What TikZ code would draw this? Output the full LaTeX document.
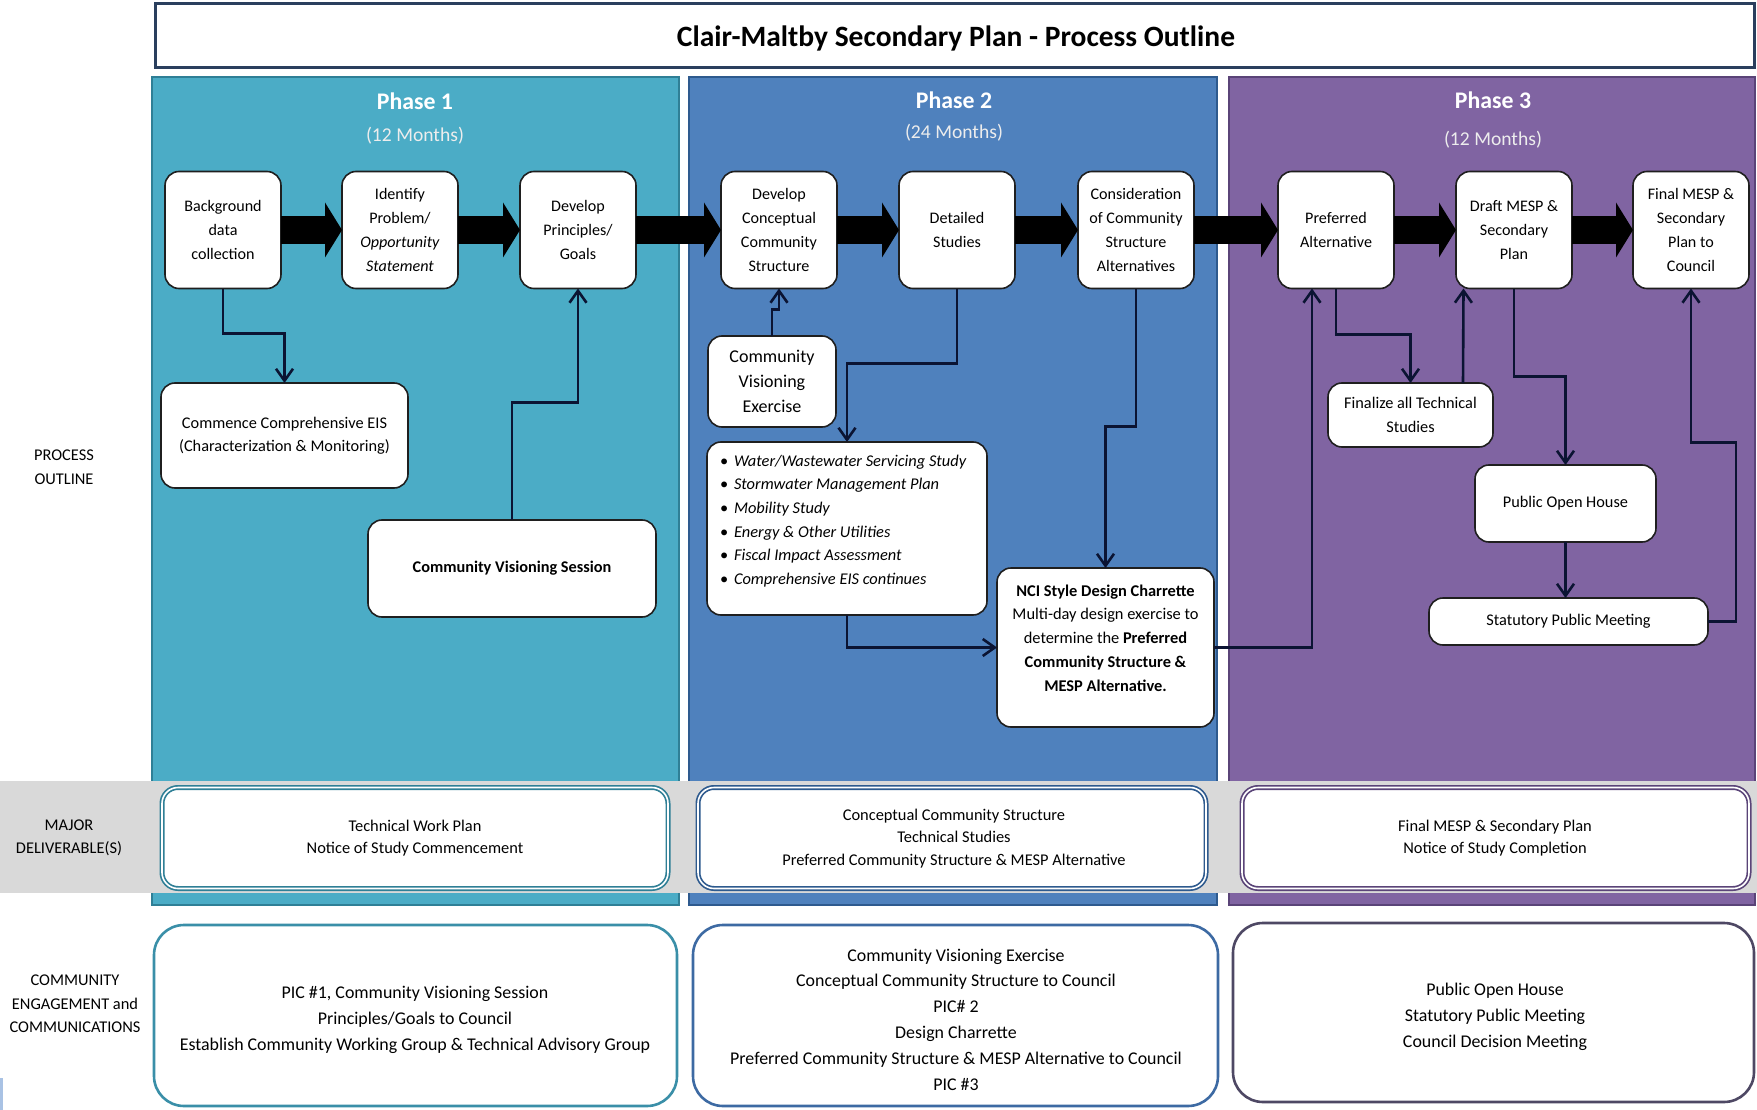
\documentclass[tikz,border=0pt]{standalone}
\usepackage{fontspec}
\setmainfont{Carlito}
\usetikzlibrary{arrows.meta,calc}
\definecolor{pone}{HTML}{4BACC6}
\definecolor{ponebd}{HTML}{2F7F96}
\definecolor{ptwo}{HTML}{4F81BD}
\definecolor{ptwobd}{HTML}{2E5A8E}
\definecolor{pthree}{HTML}{8064A2}
\definecolor{pthreebd}{HTML}{5A4478}
\definecolor{band}{HTML}{D9D9D9}
\definecolor{conncol}{HTML}{0B1433}
\definecolor{titlebd}{HTML}{2A3F5E}
\definecolor{engone}{HTML}{3A8FA8}
\definecolor{engtwo}{HTML}{3D6AA3}
\definecolor{engthree}{HTML}{4E4864}
\definecolor{artblue}{HTML}{A9C2E4}
\begin{document}
\begin{tikzpicture}[x=1pt,y=-1pt,
  every node/.style={inner sep=0pt,outer sep=0pt},
  pbox/.style={draw=black!88,line width=1.6pt,fill=white,rounded corners=14pt,align=center,
    minimum width=116pt,minimum height=117pt,font=\fontsize{16.1}{23.8}\selectfont},
  sbox/.style={draw=black!88,line width=1.6pt,fill=white,rounded corners=14pt,align=center,
    font=\fontsize{16.3}{23.5}\selectfont},
  bigarrow/.style={line width=28pt,-{Triangle[length=17pt,width=55pt,line width=0pt]},black},
  conn/.style={draw=conncol,line width=2.6pt,-{Straight Barb[length=12pt,width=17pt]}},
  phasetitle/.style={font=\bfseries\fontsize{23.8}{28}\selectfont,text=white},
  phasemonths/.style={font=\fontsize{19.6}{24}\selectfont,text=white!86!gray},
  sidelabel/.style={align=center,font=\fontsize{16.4}{23.5}\selectfont},
  delbox/.style={draw=#1,line width=1.7pt,double=white,double distance=1.6pt,fill=white,rounded corners=16pt},
  deltext/.style={align=center,font=\fontsize{16.4}{22.4}\selectfont},
  engbox/.style={draw=#1,line width=2.6pt,fill=white,rounded corners=30pt},
  engtext/.style={align=center,font=\fontsize{17.9}{25.8}\selectfont}
]
\useasboundingbox (0,0) rectangle (1757,1110);
\fill[white] (0,0) rectangle (1757,1110);

% title
\draw[titlebd,line width=3pt,fill=white] (155,4) rectangle (1754,68);
\node[font=\bfseries\fontsize{29.5}{34}\selectfont] (title) at (956,38.5) {Clair-Maltby Secondary Plan - Process Outline};

% phase panels
\draw[ponebd,line width=1.6pt,fill=pone] (152,77) rectangle (679,905);
\draw[ptwobd,line width=1.6pt,fill=ptwo] (689,77) rectangle (1217,905);
\draw[pthreebd,line width=1.6pt,fill=pthree] (1229,77) rectangle (1755,905);

\node[phasetitle] (ph1) at (415,101) {Phase 1};
\node[phasemonths] (ph1m) at (415,136) {(12 Months)};
\node[phasetitle] (ph2) at (954,100) {Phase 2};
\node[phasemonths] (ph2m) at (954,133) {(24 Months)};
\node[phasetitle] (ph3) at (1493,100) {Phase 3};
\node[phasemonths] (ph3m) at (1493,140) {(12 Months)};

% deliverables band
\fill[band] (0,781) rectangle (1757,893);

% side labels
\node[sidelabel] (lproc) at (64,467) {PROCESS\\OUTLINE};
\node[sidelabel] (ldel) at (69,838) {MAJOR\\DELIVERABLE(S)};
\node[sidelabel] (leng) at (75,1004) {COMMUNITY\\ENGAGEMENT and\\COMMUNICATIONS};

% top row process boxes
\node[pbox] (b1) at (223,230) {Background\\data\\collection};
\node[pbox] (b2) at (400,230) {Identify\\Problem/\\\textit{Opportunity}\\\textit{Statement}};
\node[pbox] (b3) at (578,230) {Develop\\Principles/\\Goals};
\node[pbox] (b4) at (779,230) {Develop\\Conceptual\\Community\\Structure};
\node[pbox] (b5) at (957,230) {Detailed\\Studies};
\node[pbox] (b6) at (1136,230) {Consideration\\of Community\\Structure\\Alternatives};
\node[pbox] (b7) at (1336,230) {Preferred\\Alternative};
\node[pbox] (b8) at (1514,230) {Draft MESP \&\\Secondary\\Plan};
\node[pbox] (b9) at (1691,230) {Final MESP \&\\Secondary\\Plan to\\Council};

\draw[bigarrow] (b1.east) -- (b2.west);
\draw[bigarrow] (b2.east) -- (b3.west);
\draw[bigarrow] (b3.east) -- (b4.west);
\draw[bigarrow] (b4.east) -- (b5.west);
\draw[bigarrow] (b5.east) -- (b6.west);
\draw[bigarrow] (b6.east) -- (b7.west);
\draw[bigarrow] (b7.east) -- (b8.west);
\draw[bigarrow] (b8.east) -- (b9.west);

% secondary boxes
\node[sbox,minimum width=247pt,minimum height=105pt] (eis) at (284.5,435.5) {Commence Comprehensive EIS\\(Characterization \& Monitoring)};
\node[sbox,minimum width=288pt,minimum height=97pt,font=\bfseries\fontsize{16.3}{23.5}\selectfont] (cvs) at (512,568.5) {Community Visioning Session};
\node[sbox,minimum width=128pt,minimum height=91pt,font=\fontsize{18}{25}\selectfont] (cve) at (772,381.5) {Community\\Visioning\\Exercise};
\node[sbox,minimum width=280pt,minimum height=173pt] (bul) at (847,528.5) {};
\node[anchor=west,align=left,font=\itshape\fontsize{16.4}{23.7}\selectfont] (bultext) at (720,521)
  {\makebox[14pt][l]{\upshape•}Water/Wastewater Servicing Study\\
   \makebox[14pt][l]{\upshape•}Stormwater Management Plan\\
   \makebox[14pt][l]{\upshape•}Mobility Study\\
   \makebox[14pt][l]{\upshape•}Energy \& Other Utilities\\
   \makebox[14pt][l]{\upshape•}Fiscal Impact Assessment\\
   \makebox[14pt][l]{\upshape•}Comprehensive EIS continues};
\node[sbox,minimum width=217pt,minimum height=159pt] (nci) at (1105.5,647.5) {};
\node[align=center,font=\fontsize{16.4}{23.8}\selectfont] (ncitext) at (1105.5,638)
  {\textbf{NCI Style Design Charrette}\\Multi-day design exercise to\\determine the \textbf{Preferred}\\\textbf{Community Structure \&}\\\textbf{MESP Alternative.}};
\node[sbox,minimum width=165pt,minimum height=64pt] (fin) at (1410.5,415) {Finalize all Technical\\Studies};
\node[sbox,minimum width=181pt,minimum height=77pt] (poh) at (1565.5,503.5) {Public Open House};
\node[sbox,minimum width=279pt,minimum height=47pt] (sta) at (1568.5,621.5) {Statutory Public Meeting};

% connectors
\draw[conn] (b1.south) -- ++(0,45) -| (eis.north);
\draw[conn] (cvs.north) |- ($(b3.south)+(0,114)$) -- (b3.south);
\draw[conn] (cve.north) |- ($(b4.south)+(0,21)$) -- (b4.south);
\draw[conn] (b5.south) -- ++(0,75) -| (bul.north);
\draw[conn] (b6.south) -- ++(0,138) -| (nci.north);
\draw[conn] (bul.south) |- (nci.west);
\draw[conn] (nci.east) -| ($(b7.south)+(-24,0)$);
\draw[conn] (b7.south) -- ++(0,46) -| (fin.north);
\draw[conn] ($(fin.north east)+(-30,0)$) -- ($(b8.south west)+(7.5,0)$);
\draw[conn] (b8.south) -- ++(0,88) -| (poh.north);
\draw[conn] (poh.south) -- (poh.south |- sta.north);
\draw[conn] (sta.east) -- ++(28,0) |- ($(b9.south)+(0,154)$) -- (b9.south);

% deliverables
\node[delbox=ponebd,minimum width=506pt,minimum height=101pt] (d1) at (415,838) {};
\node[deltext] (d1t) at (415,838) {Technical Work Plan\\Notice of Study Commencement};
\node[delbox=ptwobd,minimum width=508pt,minimum height=101pt] (d2) at (952,838) {};
\node[deltext] (d2t) at (954,838.5) {Conceptual Community Structure\\Technical Studies\\Preferred Community Structure \& MESP Alternative};
\node[delbox=pthreebd,minimum width=507pt,minimum height=101pt] (d3) at (1495.5,838) {};
\node[deltext] (d3t) at (1495,838) {Final MESP \& Secondary Plan\\Notice of Study Completion};

% engagement
\draw[engbox=engone] (154,925) rectangle (677,1106);
\node[engtext] (e1) at (415,1020) {PIC \#1, Community Visioning Session\\Principles/Goals to Council\\Establish Community Working Group \& Technical Advisory Group};
\draw[engbox=engtwo] (693,925) rectangle (1218,1106);
\node[engtext] (e2) at (956,1019.5) {Community Visioning Exercise\\Conceptual Community Structure to Council\\PIC\# 2\\Design Charrette\\Preferred Community Structure \& MESP Alternative to Council\\PIC \#3};
\draw[engbox=engthree] (1233,923) rectangle (1754,1102);
\node[engtext] (e3) at (1495,1017) {Public Open House\\Statutory Public Meeting\\Council Decision Meeting};

% edge artefact
\fill[artblue] (0,1078) rectangle (3,1110);
\end{tikzpicture}
\end{document}
